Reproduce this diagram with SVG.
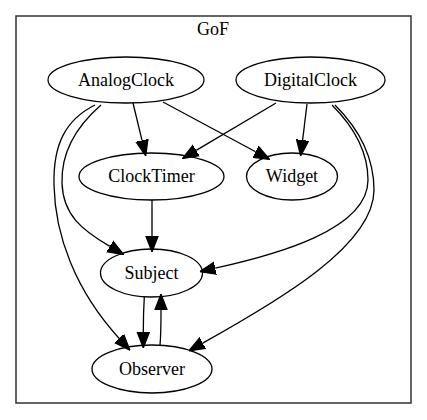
<svg xmlns="http://www.w3.org/2000/svg" width="427" height="420" viewBox="0 0 427 420">
<style>
  .node ellipse { fill: none; stroke: #000; stroke-width: 1.3; }
  text { font-family: "Liberation Serif", "Times New Roman", serif; font-size: 18px; fill: #000; text-anchor: middle; }
  .edges path { fill: none; stroke: #000; stroke-width: 1.3; marker-end: url(#arrow); }
</style>
<defs>
  <marker id="arrow" markerUnits="userSpaceOnUse" markerWidth="16" markerHeight="14" refX="0" refY="5" orient="auto" viewBox="0 0 13 10">
    <path d="M0,0 L13,5 L0,10 z" fill="#000" stroke="#000" stroke-width="1"/>
  </marker>
</defs>
<rect width="427" height="420" fill="#fff"/>
<g id="cluster_GoF">
  <rect x="16" y="16" width="395" height="387" fill="none" stroke="#333" stroke-width="1.5"/>
  <text x="213" y="35">GoF</text>
</g>
<g id="AnalogClock" class="node">
  <ellipse cx="126" cy="80" rx="78" ry="23"/>
  <text x="126" y="86">AnalogClock</text>
</g>
<g id="DigitalClock" class="node">
  <ellipse cx="310.5" cy="80" rx="74.5" ry="23"/>
  <text x="310.5" y="86">DigitalClock</text>
</g>
<g id="ClockTimer" class="node">
  <ellipse cx="151.5" cy="176.5" rx="72.5" ry="23.5"/>
  <text x="151.5" y="182">ClockTimer</text>
</g>
<g id="Widget" class="node">
  <ellipse cx="292" cy="176.5" rx="45.5" ry="23.5"/>
  <text x="292" y="182">Widget</text>
</g>
<g id="Subject" class="node">
  <ellipse cx="151.5" cy="273" rx="51" ry="24"/>
  <text x="151.5" y="279">Subject</text>
</g>
<g id="Observer" class="node">
  <ellipse cx="152" cy="369" rx="60" ry="24"/>
  <text x="152" y="375">Observer</text>
</g>
<g id="edges" class="edges">
  <path d="M133,103 L142,140.4"/>
  <path d="M163,102 L255.6,151.8"/>
  <path d="M276,103 L196.2,150.4"/>
  <path d="M307,104 L302.6,140.1"/>
  <path d="M152,200 L152,236"/>
  <path d="M101,105 C78,125 61,150 62,183 C63,215 82,230 109.9,246.4"/>
  <path d="M95,105 C65,120 53,145 54,185 C55,235 75,290 119.2,338.5"/>
  <path d="M332,105 C352,125 368,150 368,180 C368,230 275,255 215.2,268.2"/>
  <path d="M335,105 C358,128 374,155 374,190 C374,245 280,300 202.7,343.1"/>
  <path d="M144.3,297 C143.5,310 143.3,320 143.3,332"/>
  <path d="M160,345 C161,335 161,322 161,310"/>
</g>
</svg>
